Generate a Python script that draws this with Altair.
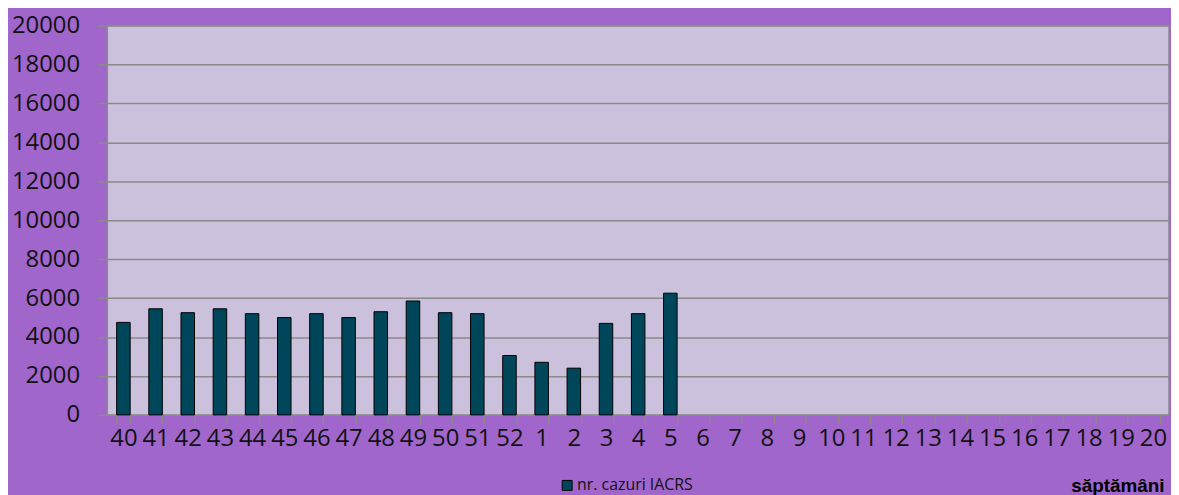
import altair as alt
import pandas as pd

weeks = ["40", "41", "42", "43", "44", "45", "46", "47", "48", "49", "50", "51", "52",
         "1", "2", "3", "4", "5", "6", "7", "8", "9", "10", "11", "12", "13", "14",
         "15", "16", "17", "18", "19", "20"]
cases = [4750, 5450, 5250, 5450, 5200, 5000, 5200, 5000, 5300, 5850, 5250, 5200,
         3050, 2700, 2400, 4700, 5200, 6250]
series_name = "nr. cazuri IACRS"
y_ticks = list(range(0, 20001, 2000))

df = pd.DataFrame({
    "week": weeks[:len(cases)],
    "cases": cases,
    "series": [series_name] * len(cases),
})

FONT = "Open Sans"

bars = alt.Chart(df).mark_bar(stroke="black", strokeWidth=1).encode(
    x=alt.X(
        "week:N",
        sort=weeks,
        scale=alt.Scale(domain=weeks, paddingInner=0.58, paddingOuter=0.29),
        axis=alt.Axis(
            title="săptămâni",
            titleFont="Liberation Sans",
            titleFontWeight="bold",
            titleFontSize=19,
            titleColor="black",
            titleAnchor="end",
            titleAlign="right",
            titleBaseline="middle",
            titleX=1064,
            titleY=71,
            labelAngle=0,
            labelFont=FONT,
            labelFontSize=24,
            labelColor="#111111",
            labelPadding=3,
            tickBand="extent",
            tickSize=9,
            tickColor="#8a8a8a",
            tickWidth=1.5,
            domain=False,
            grid=False,
        ),
    ),
    y=alt.Y(
        "cases:Q",
        scale=alt.Scale(domain=[0, 20000], nice=False),
        axis=alt.Axis(
            title=None,
            values=y_ticks,
            format="d",
            labelFont=FONT,
            labelFontSize=24,
            labelColor="#111111",
            labelPadding=18,
            tickSize=10,
            tickColor="#8a8a8a",
            tickWidth=1.5,
            domain=False,
            grid=True,
            gridColor="#8a8a8a",
            gridWidth=1.5,
        ),
    ),
    color=alt.Color(
        "series:N",
        scale=alt.Scale(range=["#00465A"]),
        legend=alt.Legend(
            title=None,
            orient="none",
            legendX=455,
            legendY=455,
            symbolType="square",
            symbolSize=100,
            symbolStrokeColor="black",
            symbolStrokeWidth=1,
            symbolFillColor="#00465A",
            labelFont=FONT,
            labelFontSize=16,
            labelColor="#111111",
            labelOffset=2,
            padding=0,
        ),
    ),
).properties(
    width=1069,
    height=392,
    background="#A066CC",
    padding={"left": 100, "top": 16, "right": 2, "bottom": 79},
    autosize=alt.AutoSizeParams(type="none"),
).configure_view(
    fill="#CBC1DD",
    stroke="#8a8a8a",
    strokeWidth=1.5,
)

chart = bars
chart.save("out.html", embed_options={"renderer": "svg", "actions": False})
